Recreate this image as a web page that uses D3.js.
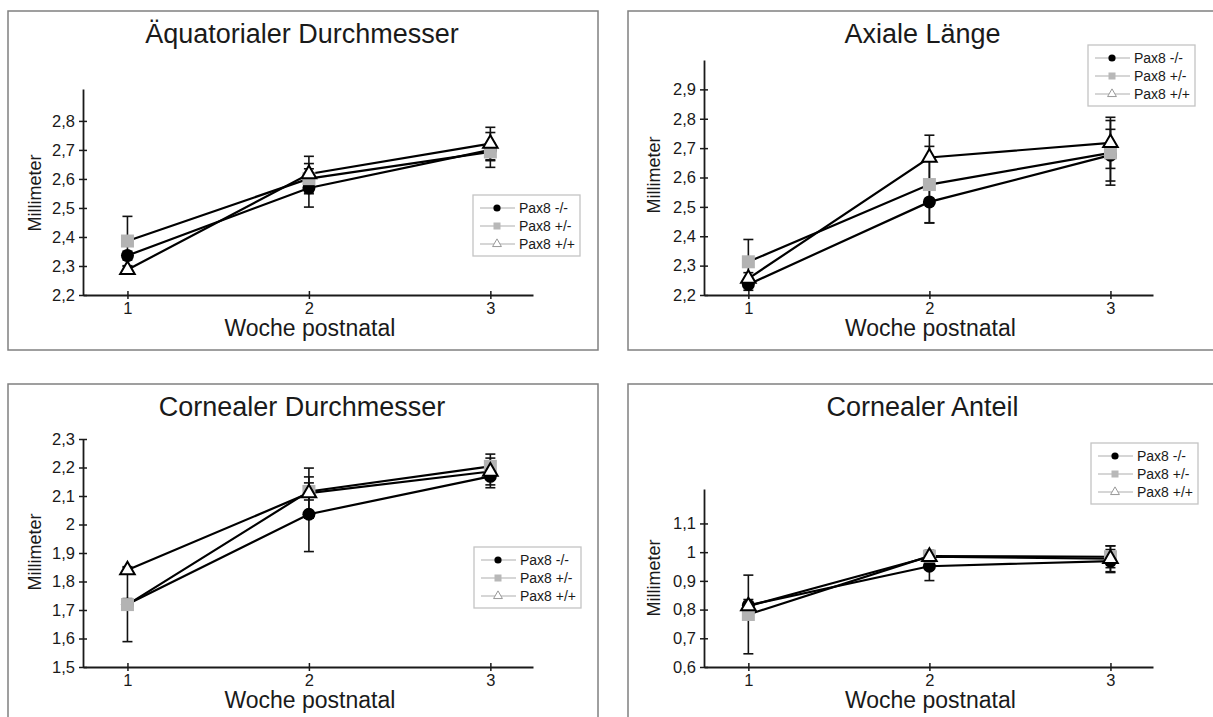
<!DOCTYPE html>
<html>
<head>
<meta charset="utf-8">
<script src="https://cdn.jsdelivr.net/npm/d3@7"></script>
<style>
body { margin: 0; background: #fff; }
svg { display: block; }
</style>
</head>
<body>
<script>
/* Daten: Mittelwerte und SD je Gruppe (Zeilen: -/-, +/-, +/+) */

var weeks = [1, 2, 3];
var groups = ["Pax8 -/-", "Pax8 +/-", "Pax8 +/+"];

var aeqMean = [[2.336, 2.569, 2.700], [2.386, 2.601, 2.693], [2.287, 2.617, 2.722]];
var aeqSd   = [[0.015, 0.066, 0.060], [0.085, 0.052, 0.030], [0.012, 0.061, 0.056]];
var aeqTicks = [2.2, 2.3, 2.4, 2.5, 2.6, 2.7, 2.8];

var axMean = [[2.236, 2.517, 2.676], [2.313, 2.576, 2.684], [2.256, 2.668, 2.718]];
var axSd   = [[0.02, 0.072, 0.088], [0.076, 0.130, 0.110], [0.02, 0.076, 0.087]];
var axTicks = [2.2, 2.3, 2.4, 2.5, 2.6, 2.7, 2.8, 2.9];

var corMean = [[1.720, 2.036, 2.169], [1.719, 2.116, 2.204], [1.840, 2.110, 2.186]];
var corSd   = [[0.02, 0.131, 0.040], [0.130, 0.030, 0.043], [0.012, 0.088, 0.047]];
var corTicks = [1.5, 1.6, 1.7, 1.8, 1.9, 2.0, 2.1, 2.2, 2.3];

var antMean = [[0.815, 0.951, 0.969], [0.783, 0.986, 0.984], [0.812, 0.984, 0.977]];
var antSd   = [[0.02, 0.050, 0.040], [0.137, 0.020, 0.038], [0.015, 0.020, 0.045]];
var antTicks = [0.6, 0.7, 0.8, 0.9, 1.0, 1.1];

var font = "'Liberation Sans', Arial, sans-serif";
var ink = "#1a1a1a";

var svg = d3.select("body").append("svg")
	.attr("width", 1213)
	.attr("height", 717);

var de = d3.formatLocale({decimal: ",", thousands: ".", grouping: [3], currency: ["", " €"]});
var fmt = function(d) { return de.format(".1f")(d).replace(/,0$/, ""); };

var panels = [
	{title: "Äquatorialer Durchmesser", mean: aeqMean, sd: aeqSd, ticks: aeqTicks, ydom: [2.2, 2.91],
	 fx: 8, fy: 11, fw: 590, fh: 339, left: 83, right: 533, top: 89, bottom: 295,
	 titleY: 43, ylabX: 41, ylabY: 193, xlabY: 336, legX: 473, legY: 195},
	{title: "Axiale Länge", mean: axMean, sd: axSd, ticks: axTicks, ydom: [2.2, 3.0],
	 fx: 628, fy: 11, fw: 640, fh: 339, left: 704, right: 1153, top: 60, bottom: 295,
	 titleY: 43, ylabX: 660, ylabY: 175, xlabY: 336, legX: 1088, legY: 45},
	{title: "Cornealer Durchmesser", mean: corMean, sd: corSd, ticks: corTicks, ydom: [1.5, 2.3],
	 fx: 8, fy: 384, fw: 590, fh: 400, left: 83, right: 533, top: 439, bottom: 667,
	 titleY: 416, ylabX: 41, ylabY: 552, xlabY: 708, legX: 474, legY: 547},
	{title: "Cornealer Anteil", mean: antMean, sd: antSd, ticks: antTicks, ydom: [0.6, 1.22],
	 fx: 628, fy: 384, fw: 640, fh: 400, left: 704, right: 1153, top: 489, bottom: 667,
	 titleY: 416, ylabX: 660, ylabY: 578, xlabY: 708, legX: 1091, legY: 443}
];

function marker(sel, i, big) {
	if (i == 0) {
		sel.append("circle").attr("r", big ? 6.5 : 3.6).attr("fill", "#000");
	} else if (i == 1) {
		var s = big ? 13 : 7;
		sel.append("rect").attr("x", -s/2).attr("y", -s/2).attr("width", s).attr("height", s)
			.attr("fill", big ? "#b3b3b3" : "#b8b8b8");
	} else {
		sel.append("path")
			.attr("d", d3.symbol().type(d3.symbolTriangle).size(big ? 92 : 34)())
			.attr("fill", "#fff")
			.attr("stroke", big ? "#000" : "#999")
			.attr("stroke-width", big ? 2 : 1);
	}
}

function drawPanel(p) {
	var g = svg.append("g");

	g.append("rect")
		.attr("x", p.fx).attr("y", p.fy)
		.attr("width", p.fw).attr("height", p.fh)
		.attr("fill", "none")
		.attr("stroke", "#808080")
		.attr("stroke-width", 1.5);

	var x = d3.scaleLinear().domain([0.755, 3.235]).range([p.left, p.right]);
	var y = d3.scaleLinear().domain(p.ydom).range([p.bottom, p.top]);

	g.append("text")
		.attr("x", (p.left + p.right) / 2 - 6).attr("y", p.titleY)
		.attr("text-anchor", "middle")
		.attr("font-family", font).attr("font-size", 27)
		.attr("fill", ink)
		.text(p.title);

	// Achsen
	var yAxis = g.append("g")
		.attr("transform", "translate(" + p.left + ",0)")
		.call(d3.axisLeft(y).tickValues(p.ticks).tickFormat(fmt).tickSize(4).tickSizeOuter(0).tickPadding(4));
	yAxis.selectAll(".tick line").attr("x1", 4);

	var xAxis = g.append("g")
		.attr("transform", "translate(0," + p.bottom + ")")
		.call(d3.axisBottom(x).tickValues(weeks).tickFormat(d3.format("d")).tickSize(4).tickSizeOuter(0).tickPadding(3));
	xAxis.selectAll(".tick line").attr("y1", -4);

	g.selectAll(".domain").attr("stroke", ink).attr("stroke-width", 1.8);
	g.selectAll(".tick line").attr("stroke", ink).attr("stroke-width", 1.5);
	g.selectAll(".tick text").attr("font-family", font).attr("font-size", 16.5).attr("fill", ink);

	g.append("text")
		.attr("transform", "translate(" + p.ylabX + "," + p.ylabY + ") rotate(-90)")
		.attr("text-anchor", "middle")
		.attr("font-family", font).attr("font-size", 18)
		.attr("fill", ink)
		.text("Millimeter");

	g.append("text")
		.attr("x", x(2) + 1).attr("y", p.xlabY)
		.attr("text-anchor", "middle")
		.attr("font-family", font).attr("font-size", 23)
		.attr("fill", ink)
		.text("Woche postnatal");

	// Fehlerbalken
	groups.forEach(function(name, i) {
		weeks.forEach(function(w, j) {
			var m = p.mean[i][j], s = p.sd[i][j];
			var eb = g.append("g").attr("stroke", "#111").attr("stroke-width", 1.6);
			eb.append("line").attr("x1", x(w)).attr("x2", x(w)).attr("y1", y(m - s)).attr("y2", y(m + s));
			eb.append("line").attr("x1", x(w) - 5).attr("x2", x(w) + 5).attr("y1", y(m - s)).attr("y2", y(m - s));
			eb.append("line").attr("x1", x(w) - 5).attr("x2", x(w) + 5).attr("y1", y(m + s)).attr("y2", y(m + s));
		});
	});

	// Linien
	var line = d3.line()
		.x(function(d, j) { return x(weeks[j]); })
		.y(function(d) { return y(d); });

	groups.forEach(function(name, i) {
		g.append("path")
			.attr("d", line(p.mean[i]))
			.attr("fill", "none")
			.attr("stroke", "#000")
			.attr("stroke-width", 2.2);
	});

	// Symbole
	groups.forEach(function(name, i) {
		weeks.forEach(function(w, j) {
			var s = g.append("g").attr("transform", "translate(" + x(w) + "," + y(p.mean[i][j]) + ")");
			marker(s, i, true);
		});
	});

	// Legende
	var leg = g.append("g").attr("transform", "translate(" + p.legX + "," + p.legY + ")");
	leg.append("rect")
		.attr("width", 107).attr("height", 61)
		.attr("fill", "#fff")
		.attr("stroke", "#c4c4c4")
		.attr("stroke-width", 1.3);
	groups.forEach(function(name, i) {
		var row = leg.append("g").attr("transform", "translate(0," + (13 + i * 18) + ")");
		row.append("line").attr("x1", 7).attr("x2", 42).attr("stroke", "#c8c8c8").attr("stroke-width", 1.3);
		var mk = row.append("g").attr("transform", "translate(24,0)");
		marker(mk, i, false);
		row.append("text")
			.attr("x", 46).attr("y", 5)
			.attr("font-family", font).attr("font-size", 14)
			.attr("fill", ink)
			.text(name);
	});
}

panels.forEach(drawPanel);
</script>
</body>
</html>
